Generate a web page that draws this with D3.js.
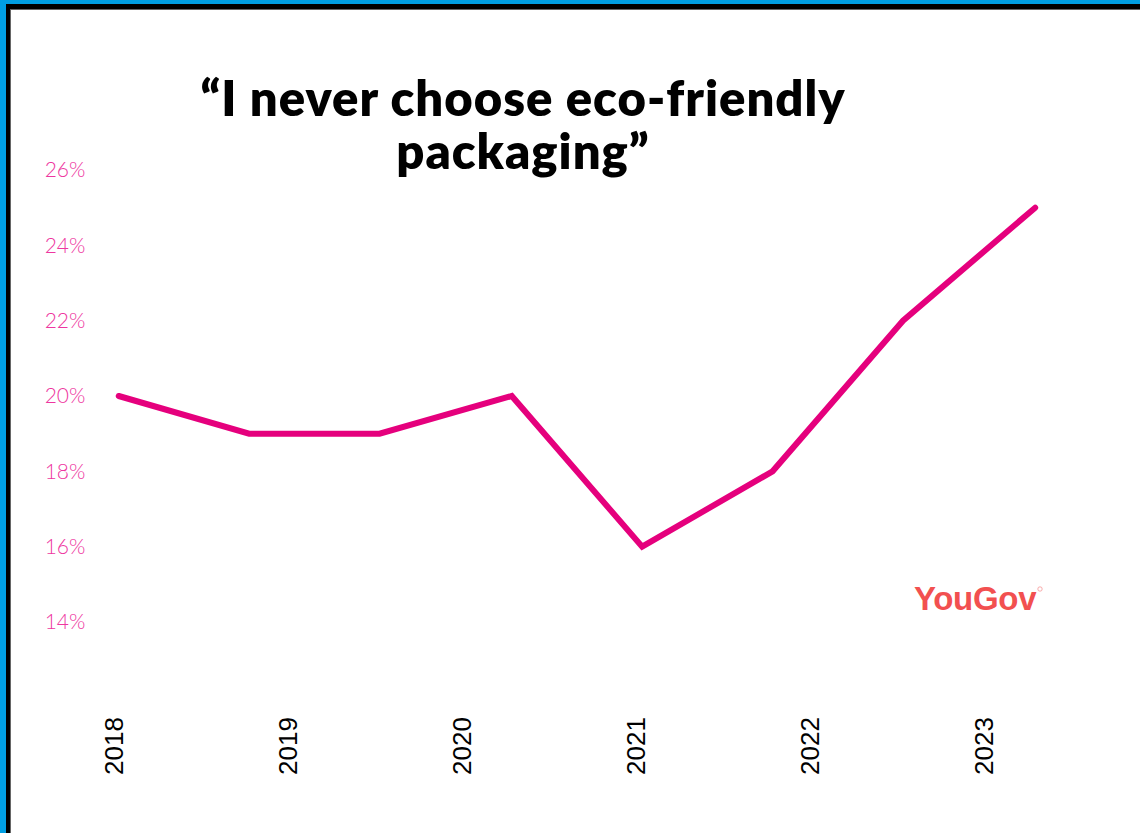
<!DOCTYPE html>
<html>
<head>
<meta charset="utf-8">
<script src="https://cdn.jsdelivr.net/npm/d3@7"></script>
<style>
  html, body { margin: 0; padding: 0; background: #ffffff; }
  svg { display: block; }
</style>
</head>
<body>
<svg id="chart" width="1140" height="833"></svg>
<script>
// ---- data ----
const titleLines = ["\u201CI never choose eco-friendly", "packaging\u201D"];
// survey waves placed on a continuous year axis (estimated positions)
const surveyTimes = [2018.03, 2018.78, 2019.53, 2020.29, 2021.04, 2021.79, 2022.54, 2023.30];
const neverChoosePct = [20, 19, 19, 20, 16, 18, 22, 25];
const yearTicks = [2018, 2019, 2020, 2021, 2022, 2023];
const pctTicks = [14, 16, 18, 20, 22, 24, 26];
const brandLabel = "YouGov";

const W = 1140, H = 833;
const svg = d3.select("#chart");

// background + frame
svg.append("rect").attr("width", W).attr("height", H).attr("fill", "#ffffff");
svg.append("rect").attr("x", 0).attr("y", 0).attr("width", W).attr("height", 5).attr("fill", "#009fe3");
svg.append("rect").attr("x", 0).attr("y", 0).attr("width", 6).attr("height", H).attr("fill", "#009fe3");
svg.append("rect").attr("x", 6).attr("y", 4).attr("width", W - 6).attr("height", 5).attr("fill", "#000000");
svg.append("rect").attr("x", 6).attr("y", 4).attr("width", 4).attr("height", H - 4).attr("fill", "#000000");
svg.append("rect").attr("x", 10).attr("y", 9).attr("width", W - 10).attr("height", 1).attr("fill", "#666666");
svg.append("rect").attr("x", 10).attr("y", 9).attr("width", 1).attr("height", H - 9).attr("fill", "#666666");

// scales
const x = d3.scaleLinear().domain([2018, 2023]).range([113.5, 983]);
const y = d3.scaleLinear().domain([14, 26]).range([622, 170]);

// title
const title = svg.append("text")
  .attr("x", 523).attr("y", 116)
  .attr("text-anchor", "middle")
  .attr("font-family", "Lato, 'Open Sans', sans-serif")
  .attr("font-weight", 800)
  .attr("font-size", 49)
  .attr("letter-spacing", 1)
  .attr("fill", "#000000");
titleLines.forEach((t, i) => {
  title.append("tspan").attr("x", 523).attr("y", 116 + i * 53).text(t);
});

// y axis
const yAxis = svg.append("g")
  .attr("transform", "translate(65,0)")
  .call(d3.axisLeft(y).tickValues(pctTicks).tickSize(0).tickFormat(d => d + "%"));
yAxis.select(".domain").remove();
yAxis.selectAll("text")
  .attr("x", 0)
  .attr("text-anchor", "middle")
  .attr("font-family", "Lato, 'Open Sans', sans-serif")
  .attr("font-weight", 300)
  .attr("font-size", 21)
  .attr("fill", "#ee36a0");

// x axis
const xAxis = svg.append("g")
  .attr("transform", "translate(0,775)")
  .call(d3.axisBottom(x).tickValues(yearTicks).tickSize(0).tickFormat(d3.format("d")));
xAxis.select(".domain").remove();
xAxis.selectAll("text")
  .attr("x", 0).attr("y", 0).attr("dy", "0.35em")
  .attr("text-anchor", "start")
  .attr("transform", "rotate(-90)")
  .attr("font-family", "'Liberation Sans', Arial, sans-serif")
  .attr("font-size", 26)
  .attr("fill", "#000000");

// line
const pts = surveyTimes.map((t, i) => [t, neverChoosePct[i]]);
svg.append("path")
  .datum(pts)
  .attr("fill", "none")
  .attr("stroke", "#e5007d")
  .attr("stroke-width", 6)
  .attr("stroke-linecap", "round")
  .attr("stroke-linejoin", "miter")
  .attr("d", d3.line().x(d => x(d[0])).y(d => y(d[1])));

// brand logo text
svg.append("text")
  .attr("x", 914).attr("y", 610)
  .attr("font-family", "'Liberation Sans', Arial, sans-serif")
  .attr("font-weight", 700)
  .attr("font-size", 33)
  .attr("letter-spacing", -0.3)
  .attr("fill", "#f25050")
  .text(brandLabel);
svg.append("circle")
  .attr("cx", 1040).attr("cy", 589).attr("r", 2.2)
  .attr("fill", "none")
  .attr("stroke", "#f58a8a")
  .attr("stroke-width", 0.7);
</script>
</body>
</html>
